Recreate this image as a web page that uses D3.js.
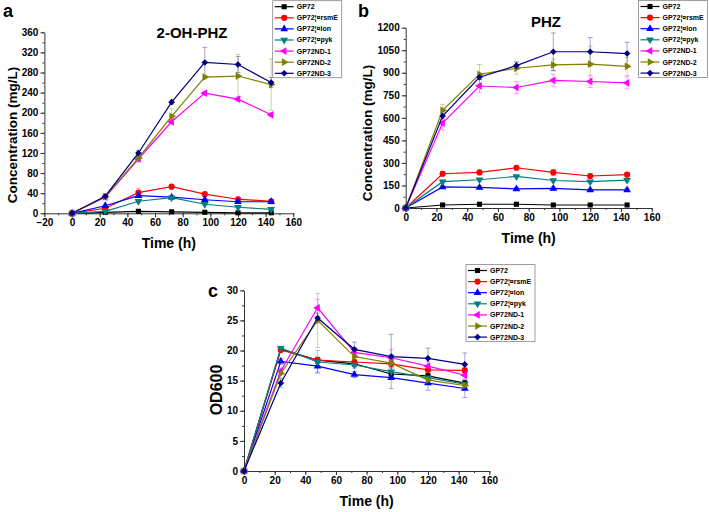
<!DOCTYPE html>
<html>
<head>
<meta charset="utf-8">
<script src="https://cdn.jsdelivr.net/npm/d3@7"></script>
<style>
  body { margin: 0; background: #fff; }
  text { font-family: "Liberation Sans", Arial, sans-serif; font-weight: bold; }
</style>
</head>
<body>
<div id="chart"></div>
<script>
// time points (h)
var hours = [0, 24, 48, 72, 96, 120, 144];
var strains = ["GP72", "GP72¦¤rsmE", "GP72¦¤lon", "GP72¦¤pyk", "GP72ND-1", "GP72ND-2", "GP72ND-3"];
var colors = ["#000000", "#ff0000", "#0000ff", "#008080", "#ff00ff", "#808000", "#000080"];

// a: 2-OH-PHZ (mg/L)
var ohphz = [
  [0, 2, 4, 3, 2, 1, 1],
  [0, 10, 41, 53, 38, 28, 24],
  [0, 15, 35, 32, 27, 23, 23],
  [0, 4, 24, 31, 18, 12, 8],
  [0, 32, 108, 182, 239, 227, 196],
  [0, 33, 110, 193, 271, 273, 256],
  [0, 34, 120, 221, 300, 296, 260]
];
var ohphzErr = [
  [0, 1, 1, 1, 1, 1, 1],
  [0, 2, 9, 3, 2, 2, 2],
  [0, 2, 3, 2, 2, 2, 2],
  [0, 1, 3, 3, 2, 2, 2],
  [0, 3, 5, 4, 4, 5, 4],
  [0, 3, 8, 15, 4, 43, 51],
  [0, 3, 5, 4, 30, 16, 10]
];

// b: PHZ (mg/L)
var phz = [
  [0, 20, 25, 25, 20, 20, 20],
  [0, 228, 237, 268, 237, 213, 222],
  [0, 140, 137, 127, 130, 120, 120],
  [0, 175, 188, 210, 183, 175, 185],
  [0, 565, 812, 802, 850, 842, 833],
  [0, 650, 890, 930, 952, 958, 942],
  [0, 612, 870, 948, 1040, 1040, 1028]
];
var phzErr = [
  [0, 3, 3, 3, 3, 3, 3],
  [0, 15, 15, 15, 20, 15, 15],
  [0, 10, 10, 10, 10, 10, 10],
  [0, 10, 10, 10, 10, 10, 10],
  [0, 45, 45, 40, 40, 40, 40],
  [0, 40, 65, 40, 40, 120, 60],
  [0, 20, 15, 25, 125, 95, 75]
];

// c: OD600
var od = [
  [0, 20.2, 18.4, 17.8, 16.1, 15.8, 14.6],
  [0, 20.1, 18.4, 18.1, 17.8, 16.8, 16.7],
  [0, 18.2, 17.4, 16.0, 15.5, 14.6, 13.7],
  [0, 20.4, 18.1, 17.6, 16.5, 15.5, 14.4],
  [0, 16.6, 27.1, 19.7, 18.8, 17.4, 15.9],
  [0, 16.2, 25.0, 19.0, 17.9, 15.1, 14.2],
  [0, 14.6, 25.4, 20.2, 19.0, 18.7, 17.7]
];
var odErr = [
  [0, 0.3, 0.5, 0.4, 0.4, 0.4, 0.4],
  [0, 0.3, 0.5, 0.5, 0.6, 0.5, 0.5],
  [0, 0.5, 1.0, 0.5, 1.8, 1.2, 1.5],
  [0, 0.3, 1.9, 0.5, 0.5, 0.6, 0.5],
  [0, 0.5, 1.4, 0.8, 1.4, 0.8, 0.5],
  [0, 0.8, 4.5, 0.6, 0.6, 0.6, 0.8],
  [0, 0.7, 0.8, 1.2, 3.7, 1.7, 1.9]
];

var W = 709, H = 512;
var svg = d3.select("#chart").append("svg").attr("width", W).attr("height", H);

// marker shapes: square, circle, up, down, left, right, diamond
var shapes = [
  {t: d3.symbolSquare, r: 0, s: 26},
  {t: d3.symbolCircle, r: 0, s: 30},
  {t: d3.symbolTriangle, r: 0, s: 26},
  {t: d3.symbolTriangle, r: 180, s: 26},
  {t: d3.symbolTriangle, r: -90, s: 26},
  {t: d3.symbolTriangle, r: 90, s: 26},
  {t: d3.symbolSquare, r: 45, s: 22}
];

function marker(g, i, x, y) {
  g.append("path")
    .attr("d", d3.symbol().type(shapes[i].t).size(shapes[i].s)())
    .attr("transform", "translate(" + x + "," + y + ") rotate(" + shapes[i].r + ")")
    .attr("fill", colors[i]);
}

function panel(p) {
  var x = d3.scaleLinear().domain(p.xd).range([p.x0, p.x1]);
  var y = d3.scaleLinear().domain(p.yd).range([p.y0, p.y1]);
  var g = svg.append("g");

  // minor ticks
  g.append("g").attr("transform", "translate(0," + p.y0 + ")")
    .call(d3.axisBottom(x).tickValues(d3.range(p.xd[0], p.xd[1] + 1, 10)).tickSize(2).tickFormat(""))
    .call(function(a){ a.select(".domain").remove(); });
  g.append("g").attr("transform", "translate(" + p.x0 + ",0)")
    .call(d3.axisLeft(y).tickValues(d3.range(p.yd[0], p.yd[1] + 0.001, p.ystep / 2)).tickSize(2).tickFormat(""))
    .call(function(a){ a.select(".domain").remove(); });

  g.append("g").attr("transform", "translate(0," + p.y0 + ")")
    .call(d3.axisBottom(x).tickValues(d3.range(p.xd[0], p.xd[1] + 1, 20)).tickFormat(d3.format("d"))
      .tickSize(4).tickSizeOuter(0).tickPadding(2));
  g.append("g").attr("transform", "translate(" + p.x0 + ",0)")
    .call(d3.axisLeft(y).tickValues(d3.range(p.yd[0], p.yd[1] + 0.001, p.ystep)).tickFormat(d3.format("d"))
      .tickSize(4).tickSizeOuter(0).tickPadding(2));
  g.selectAll(".tick text").attr("font-size", 10).attr("font-weight", "bold").attr("fill", "#000");
  g.selectAll(".domain, .tick line").attr("stroke", "#333");

  // error bars
  p.data.forEach(function(s, i) {
    var eg = g.append("g").attr("stroke", colors[i]).attr("stroke-opacity", 0.35).attr("stroke-width", 1);
    s.forEach(function(v, j) {
      var e = p.err[i][j];
      if (!e) return;
      var cx = x(hours[j]);
      eg.append("line").attr("x1", cx).attr("x2", cx).attr("y1", y(v - e)).attr("y2", y(v + e));
      eg.append("line").attr("x1", cx - 2.5).attr("x2", cx + 2.5).attr("y1", y(v - e)).attr("y2", y(v - e));
      eg.append("line").attr("x1", cx - 2.5).attr("x2", cx + 2.5).attr("y1", y(v + e)).attr("y2", y(v + e));
    });
  });

  // lines + markers
  var line = d3.line().x(function(d, j){ return x(hours[j]); }).y(function(d){ return y(d); });
  p.data.forEach(function(s, i) {
    g.append("path").datum(s).attr("d", line).attr("fill", "none")
      .attr("stroke", colors[i]).attr("stroke-width", 1.2);
    s.forEach(function(v, j) { marker(g, i, x(hours[j]), y(v)); });
  });

  // labels
  svg.append("text").attr("x", p.lx).attr("y", p.ly).attr("font-size", 18).text(p.letter);
  if (p.title) svg.append("text").attr("x", p.tx).attr("y", p.ty).attr("text-anchor", "middle")
    .attr("font-size", 15).text(p.title);
  svg.append("text").attr("x", (p.x0 + p.x1) / 2).attr("y", p.y0 + 35).attr("text-anchor", "middle")
    .attr("font-size", 14).text("Time (h)");
  svg.append("text").attr("transform", "translate(" + p.ylx + "," + p.yly + ") rotate(-90)")
    .attr("text-anchor", "middle").attr("font-size", p.ylSize).text(p.ylabel);

  // legend
  var L = svg.append("g").attr("transform", "translate(" + p.legX + "," + p.legY + ")");
  L.append("rect").attr("width", 69).attr("height", 77).attr("fill", "#fff").attr("stroke", "#888").attr("stroke-width", 0.8);
  strains.forEach(function(name, i) {
    var ry = 6 + i * 11.1;
    L.append("line").attr("x1", 2).attr("x2", 21).attr("y1", ry).attr("y2", ry).attr("stroke", colors[i]).attr("stroke-width", 1.2);
    marker(L, i, 11.5, ry);
    L.append("text").attr("x", 24).attr("y", ry + 2.5).attr("font-size", 7).text(name);
  });
}

panel({
  xd: [-20, 160], yd: [0, 360], ystep: 40, x0: 44.4, x1: 293.3, y0: 213.3, y1: 32.3,
  data: ohphz, err: ohphzErr, letter: "a", lx: 3, ly: 17, title: "2-OH-PHZ", tx: 192, ty: 38,
  ylabel: "Concentration (mg/L)", ylx: 17, yly: 135, ylSize: 13.5, legX: 272.7, legY: 0.7
});

panel({
  xd: [0, 160], yd: [0, 1200], ystep: 150, x0: 405.7, x1: 651.7, y0: 208, y1: 27.7,
  data: phz, err: phzErr, letter: "b", lx: 358, ly: 17, title: "PHZ", tx: 546, ty: 27,
  ylabel: "Concentration (mg/L)", ylx: 372, yly: 133, ylSize: 13.5, legX: 638.5, legY: 0.5
});

panel({
  xd: [0, 160], yd: [0, 30], ystep: 5, x0: 244, x1: 489.3, y0: 471, y1: 290.3,
  data: od, err: odErr, letter: "c", lx: 208, ly: 297, title: null,
  ylabel: "OD600", ylx: 222, yly: 390, ylSize: 16, legX: 466, legY: 264.5
});
</script>
</body>
</html>
